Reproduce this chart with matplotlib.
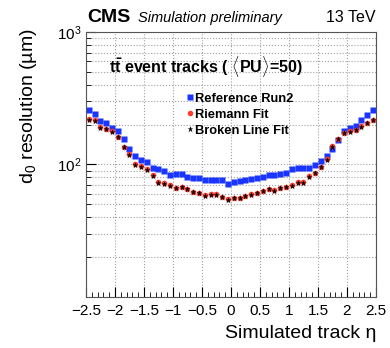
import numpy as np
import matplotlib
matplotlib.use("Agg")
import matplotlib.pyplot as plt
from matplotlib.ticker import MultipleLocator, LogLocator, NullFormatter

plt.rcParams['font.family'] = ['Liberation Sans', 'DejaVu Sans']
plt.rcParams['mathtext.fontset'] = 'custom'
plt.rcParams['mathtext.rm'] = 'Liberation Sans'
plt.rcParams['mathtext.bf'] = 'Liberation Sans:bold'
plt.rcParams['mathtext.it'] = 'Liberation Sans:italic'

# eta bin centres, 50 bins of 0.1
eta = np.arange(-2.45, 2.5, 0.1)

# d0 resolution in um
reference_run2 = [256, 242, 212, 206, 189, 178, 157, 130, 115.5, 109,
                  104, 94.4, 92.8, 89, 84, 85, 85, 80.8, 79.4, 78.5,
                  76.2, 75.8, 76.2, 75.8, 70.7, 73.6, 74.9, 76.2, 78, 79.4,
                  80.8, 82.7, 84, 85, 86.6, 91.7, 93.3, 94.4, 94.4, 98.3,
                  106, 115.5, 130, 154, 178, 189, 194, 218, 238, 259]
riemann_fit = [220, 215, 192, 186.5, 178, 161.5, 136, 119, 100, 97.2,
               91.7, 82.7, 73.6, 71.9, 69.5, 66.8, 68, 65.6, 61.9, 61.2,
               58.5, 59.5, 59.5, 57.1, 54.5, 56.2, 56.2, 57.8, 59.5, 61.2,
               63, 65.6, 64.1, 66.8, 68, 69.5, 73.6, 73.6, 81.7, 86.6,
               96, 110, 137, 157, 173, 178, 183, 194, 206, 218]
broken_line_fit = [218, 213, 190, 185, 176, 160, 135, 118, 99, 96.5,
                   91, 82, 73, 71.5, 69, 66.5, 67.5, 65, 61.5, 60.8,
                   58, 59, 59, 56.8, 54, 55.8, 55.8, 57.4, 59, 60.8,
                   62.6, 65, 63.6, 66.3, 67.5, 69, 73, 73, 81, 86,
                   95, 109, 136, 156, 172, 177, 182, 193, 205, 216]

fig = plt.figure(figsize=(3.9, 3.48), dpi=100)
ax = fig.add_axes([0.2205, 0.1466, 0.7435, 0.7614])

ax.plot(eta, reference_run2, 's', color='#1a35ff', markersize=4.2, mec='none',
        label='Reference Run2')
ax.plot(eta, riemann_fit, 'o', color='#ff3a2a', markersize=4.0, mec='none',
        label='Riemann Fit')
ax.plot(eta, broken_line_fit, '*', color='black', markersize=4.5, mec='none',
        label='Broken Line Fit')

ax.set_yscale('log')
ax.set_xlim(-2.5, 2.5)
ax.set_ylim(10, 1000)
ax.set_yticks([100, 1000])
ax.set_yticklabels(['$10^2$', '$10^3$'])
ax.yaxis.set_minor_locator(LogLocator(base=10, subs=np.arange(2, 10)))
ax.yaxis.set_minor_formatter(NullFormatter())
ax.xaxis.set_minor_locator(MultipleLocator(0.1))
ax.set_xticks(np.arange(-2.5, 2.51, 0.5))
ax.set_xticklabels(['\u22122.5', '\u22122', '\u22121.5', '\u22121', '\u22120.5',
                    '0', '0.5', '1', '1.5', '2', '2.5'])

ax.grid(True, which='major', axis='x', color='#a0a0a0', linestyle=':', linewidth=0.8)
ax.grid(True, which='both', axis='y', color='#a0a0a0', linestyle=':', linewidth=0.8)
ax.tick_params(which='both', direction='in', labelsize=11, top=False, right=False)
ax.tick_params(which='major', length=7)
ax.tick_params(which='minor', length=3.5)
ax.tick_params(axis='x', pad=5)
for s in ax.spines.values():
    s.set_linewidth(0.8)
    s.set_color('#555555')

ax.set_xlabel('Simulated track \u03b7', fontsize=14, loc='right', labelpad=5)
ax.set_ylabel('d$_0$ resolution (\u00b5m)', fontsize=14, loc='top')
ax.yaxis.set_label_coords(-0.162, 1.015)

fig.text(0.223, 0.925, 'CMS', fontsize=14, fontweight='bold', va='bottom')
fig.text(0.354, 0.927, 'Simulation preliminary', fontsize=10.5, style='italic', va='bottom')
fig.text(0.964, 0.927, '13 TeV', fontsize=11.5, ha='right', va='bottom')

ax.text(0.08, 0.868, r'$\mathbf{t\bar{t}}$ event tracks ( $\langle$PU$\rangle$=50)',
        transform=ax.transAxes, fontsize=11.5, fontweight='bold', va='center')

leg = ax.legend(loc='upper left', bbox_to_anchor=(0.33, 0.79), frameon=False,
                handlelength=0.5, handletextpad=0.1, labelspacing=0.3,
                borderaxespad=0, prop={'weight': 'bold', 'size': 9.3})

fig.savefig('out.png', dpi=100)
